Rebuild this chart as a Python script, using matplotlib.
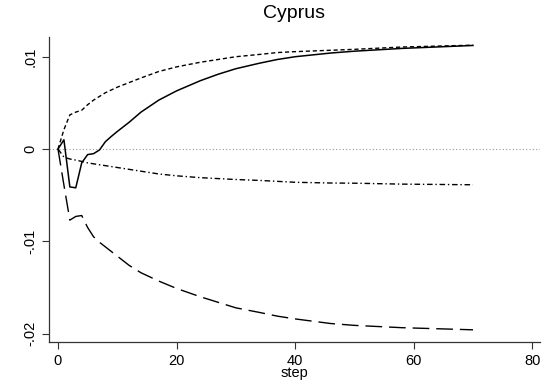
import matplotlib
matplotlib.use("Agg")
import matplotlib.pyplot as plt

plt.rcParams['font.family'] = ['Liberation Sans', 'DejaVu Sans']

# impulse response values, at selected steps
steps = [0, 1, 2, 3, 4, 5, 6, 7, 8, 9, 10, 12, 14, 17, 20, 24, 27, 30, 34, 37, 40, 46, 50, 58, 70]
irf = [0, 0.0010, -0.0041, -0.0042, -0.0015, -0.0006, -0.0005, -0.0001, 0.0008, 0.00137,
       0.0019, 0.0029, 0.0040, 0.0053, 0.0063, 0.0074, 0.0081, 0.0087, 0.0093, 0.0097,
       0.0100, 0.0104, 0.0106, 0.0109, 0.01122]
upper = [0, 0.0021, 0.0037, 0.0040, 0.0042, 0.0048, 0.0053, 0.0057, 0.0061, 0.0064,
         0.0067, 0.0072, 0.0077, 0.0084, 0.0089, 0.0094, 0.0097, 0.0100, 0.01025, 0.01045,
         0.01055, 0.0107, 0.0108, 0.01105, 0.01125]
lower = [0, -0.0039, -0.0077, -0.0073, -0.0072, -0.0085, -0.0095, -0.0101, -0.0106, -0.0111,
         -0.0116, -0.0126, -0.0134, -0.0143, -0.0151, -0.0160, -0.0166, -0.0172, -0.0177,
         -0.0181, -0.0184, -0.0189, -0.0191, -0.01935, -0.01958]
middle = [0, -0.00087, -0.00108, -0.0012, -0.00134, -0.0015, -0.0016, -0.0017, -0.0018,
          -0.0019, -0.00200, -0.0022, -0.0024, -0.0027, -0.0029, -0.0031, -0.0032, -0.0033,
          -0.0034, -0.0035, -0.0036, -0.00368, -0.0037, -0.0038, -0.00387]

xticks = [0, 20, 40, 60, 80]
yticks = [-0.02, -0.01, 0, 0.01]
ylabels = ['-.02', '-.01', '0', '.01']

fig = plt.figure(figsize=(5.46, 3.86), dpi=100)
ax = fig.add_axes([0.0897, 0.114, 0.8993, 0.79])

ax.axhline(0, color='#999999', lw=0.8, ls=(0, (1, 2)))
ax.plot(steps, upper, color='black', lw=1.0, ls=(0, (3, 2)))
ax.plot(steps, lower, color='black', lw=1.0, ls=(0, (12, 5)))
ax.plot(steps, middle, color='black', lw=1.0, ls=(0, (4, 2, 1, 2)))
ax.plot(steps, irf, color='black', lw=1.1)

ax.set_xlim(-1.52, 81.3)
ax.set_ylim(-0.0209, 0.01213)
ax.set_xticks(xticks)
ax.set_yticks(yticks)
ax.set_yticklabels(ylabels, rotation=90, va='center')
ax.tick_params(labelsize=10.5, length=5, width=0.8, color='#333333')
ax.spines['top'].set_visible(False)
ax.spines['right'].set_visible(False)
for s in ['left', 'bottom']:
    ax.spines[s].set_color('#333333')
    ax.spines[s].set_linewidth(0.9)
ax.set_xlabel('step', fontsize=10.5, labelpad=-1)
ax.set_title('Cyprus', fontsize=14, pad=14)

fig.savefig('out.png', dpi=100)
